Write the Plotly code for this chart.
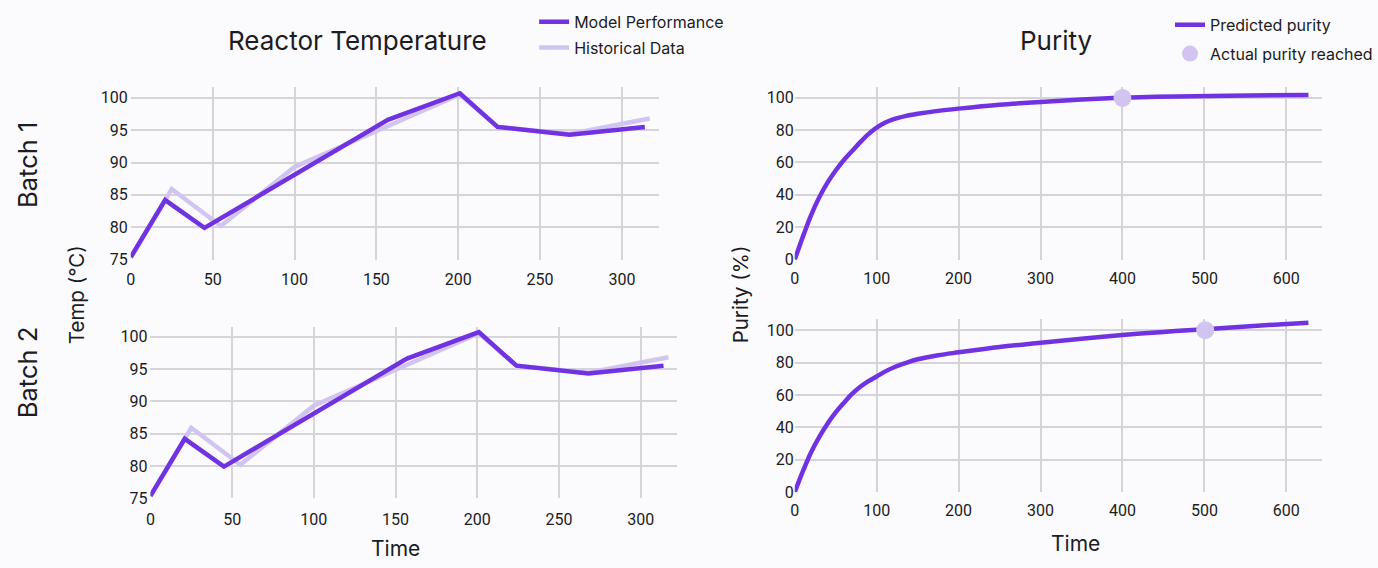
import plotly.graph_objects as go

W, H = 1378, 568

# ---------------- data ----------------
model_time = [0, 21, 45, 157, 201, 224, 268, 314]
model_temp = [75.4, 84.2, 79.9, 96.6, 100.7, 95.5, 94.3, 95.5]
hist_time = [0, 25, 55, 100, 201, 224, 268, 317]
hist_temp = [75.3, 85.9, 80.2, 89.3, 100.5, 95.5, 94.4, 96.8]

pur1_time = [0, 10, 20, 30, 40, 50, 60, 70, 80, 90, 100, 110, 120, 135, 150, 175,
             200, 250, 300, 350, 400, 466, 530, 627]
pur1_val = [0, 14.2, 27.5, 38.5, 47.5, 55, 61.5, 67, 72.5, 77.5, 81.5, 84.5, 86.6,
            88.6, 90, 91.8, 93.2, 95.6, 97.3, 98.8, 99.9, 100.7, 101.2, 101.6]
act1_time = [400]
act1_val = [99.8]

pur2_time = [0, 10, 20, 30, 40, 50, 60, 70, 80, 90, 100, 110, 120, 135, 150, 175,
             200, 250, 300, 350, 400, 450, 501, 560, 627]
pur2_val = [0, 13, 24.7, 34.2, 42.3, 49.2, 55.1, 60.6, 65, 68.5, 71.4, 74.4, 76.8,
            79.6, 82, 84.5, 86.3, 89.6, 92.2, 94.7, 97, 98.9, 100.6, 102.6, 104.6]
act2_time = [501]
act2_val = [100.0]

temp_ticks = [75, 80, 85, 90, 95, 100]
time_ticks_left = [0, 50, 100, 150, 200, 250, 300]
purity_ticks = [0, 20, 40, 60, 80, 100]
time_ticks_right = [0, 100, 200, 300, 400, 500, 600]

# ---------------- style ----------------
DARK = "#7133e2"
LIGHT = "#d2c4f1"
GRID = "#d6d4d8"
BG = "#fbfafd"
TXT = "#1c1c22"
FONT = "Inter, Roboto, sans-serif"
TICKFONT = dict(family="Roboto, sans-serif", size=16, color=TXT)


def xd(a, b):
    return [a / W, b / W]


def yd(top, bottom):
    return [1 - bottom / H, 1 - top / H]


fig = go.Figure()

# left: temperature
for i, (xa, ya) in enumerate([("x", "y"), ("x2", "y2")]):
    fig.add_trace(go.Scatter(x=hist_time, y=hist_temp, mode="lines",
                             line=dict(color=LIGHT, width=4.5),
                             name="Historical Data", legend="legend", legendgroup="hist",
                             showlegend=(i == 0), xaxis=xa, yaxis=ya, legendrank=2))
    fig.add_trace(go.Scatter(x=model_time, y=model_temp, mode="lines",
                             line=dict(color=DARK, width=4.5),
                             name="Model Performance", legend="legend", legendgroup="model",
                             showlegend=(i == 0), xaxis=xa, yaxis=ya, legendrank=1))

# right: purity
for i, (xa, ya, pt, pv, at, av) in enumerate([
        ("x3", "y3", pur1_time, pur1_val, act1_time, act1_val),
        ("x4", "y4", pur2_time, pur2_val, act2_time, act2_val)]):
    fig.add_trace(go.Scatter(x=pt, y=pv, mode="lines", line_shape="spline",
                             line=dict(color=DARK, width=4.5, smoothing=1.0),
                             name="Predicted purity", legend="legend2", legendgroup="pred",
                             showlegend=(i == 0), xaxis=xa, yaxis=ya, legendrank=1))
    fig.add_trace(go.Scatter(x=at, y=av, mode="markers",
                             marker=dict(color=LIGHT, size=18),
                             name="Actual purity reached", legend="legend2", legendgroup="act",
                             showlegend=(i == 0), xaxis=xa, yaxis=ya, legendrank=2))

axis_common = dict(showgrid=True, gridcolor=GRID, gridwidth=2, zeroline=False,
                   showline=False, ticks="", tickfont=TICKFONT)

fig.update_layout(
    width=W, height=H,
    margin=dict(l=0, r=0, t=0, b=0),
    paper_bgcolor=BG, plot_bgcolor=BG,
    font=dict(family=FONT, color=TXT),
    xaxis=dict(domain=xd(126.7, 658.9), anchor="y", range=[0, 322.7],
               tickvals=time_ticks_left, ticklabelstandoff=8, **axis_common),
    yaxis=dict(domain=yd(88.3, 264.3), anchor="x", range=[75, 101.7],
               tickvals=temp_ticks, ticklabelstandoff=2, **axis_common),
    xaxis2=dict(domain=xd(146.5, 676.5), anchor="y2", range=[0, 322],
                tickvals=time_ticks_left, ticklabelstandoff=10, **axis_common),
    yaxis2=dict(domain=yd(332.7, 507.3), anchor="x2", range=[75, 101.5],
                tickvals=temp_ticks, ticklabelstandoff=2, **axis_common),
    xaxis3=dict(domain=xd(795.5, 1327), anchor="y3", range=[0, 644],
                tickvals=time_ticks_right, ticklabelstandoff=7, **axis_common),
    yaxis3=dict(domain=yd(88.3, 264.3), anchor="x3", range=[0, 106.7],
                tickvals=purity_ticks, **axis_common),
    xaxis4=dict(domain=xd(795.5, 1327), anchor="y4", range=[0, 644],
                tickvals=time_ticks_right, ticklabelstandoff=7, **axis_common),
    yaxis4=dict(domain=yd(325, 501), anchor="x4", range=[0, 106.7],
                tickvals=purity_ticks, **axis_common),
    legend=dict(x=533 / W, y=1 - 5 / H, xanchor="left", yanchor="top",
                bgcolor="rgba(0,0,0,0)", font=dict(size=16, family=FONT, color=TXT),
                tracegroupgap=2, itemwidth=30),
    legend2=dict(x=1174 / W, y=1 - 8 / H, xanchor="left", yanchor="top",
                 bgcolor="rgba(0,0,0,0)", font=dict(size=16, family=FONT, color=TXT),
                 tracegroupgap=5, itemwidth=30),
)

anns = [
    dict(text="Reactor Temperature", x=355, y=41, size=26, angle=0),
    dict(text="Purity", x=1059, y=41, size=26, angle=0),
    dict(text="Batch 1", x=22, y=168, size=25.5, angle=-90),
    dict(text="Batch 2", x=22, y=379, size=25.5, angle=-90),
    dict(text="Temp (°C)", x=72, y=300, size=20.5, angle=-90),
    dict(text="Purity (%)", x=741, y=300, size=20.5, angle=-90),
    dict(text="Time", x=393, y=558, size=21, angle=0),
    dict(text="Time", x=1078, y=553, size=21, angle=0),
]
for a in anns:
    fig.add_annotation(text=a["text"], x=a["x"] / W, y=1 - a["y"] / H,
                       xref="paper", yref="paper", xanchor="center", yanchor="middle",
                       showarrow=False, textangle=a["angle"],
                       font=dict(size=a["size"], family=FONT, color=TXT))

fig.write_html("out.html", config={"displayModeBar": False},
               post_script="document.body.style.margin='0';document.body.style.overflow='hidden';")
